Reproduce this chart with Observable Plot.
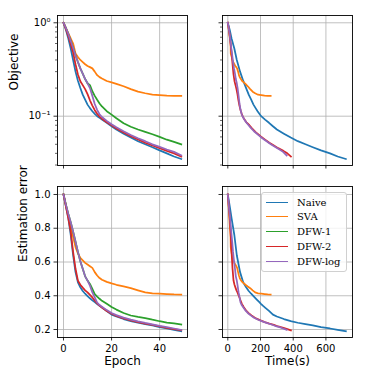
<!DOCTYPE html>
<html>
<head>
<meta charset="utf-8">
<script src="https://cdn.jsdelivr.net/npm/d3@7"></script>
<script src="https://cdn.jsdelivr.net/npm/@observablehq/plot@0.6"></script>
<style>
  html, body { margin: 0; padding: 0; background: #fff; }
  #fig { position: relative; width: 374px; height: 374px; font-family: "DejaVu Sans"; color: #000; }
  #fig svg { position: absolute; left: 0; top: 0; overflow: visible; max-width: none; }
  .legend { position: absolute; box-sizing: border-box; border: 1px solid #d0d0d0; border-radius: 3px;
            background: rgba(255,255,255,0.8); font-family: "DejaVu Serif"; font-size: 10px; color: #000; }
  .legend .row { position: absolute; left: 0; height: 14px; display: flex; align-items: center; white-space: nowrap; }
  .legend .sw { display: inline-block; width: 22px; height: 0; border-top: 1.8px solid; margin-left: 4px; margin-right: 9px; }
</style>
</head>
<body>
<div id="fig"></div>
<script>
// ---- data ----
const methods = ["Naive", "SVA", "DFW-1", "DFW-2", "DFW-log"];
const colors = ["#1f77b4", "#ff7f0e", "#2ca02c", "#d62728", "#9467bd"];

const epochs = [0,1,2,3,4,5,6,7,8,9,10,11,12,13,14,15,16,18,20,22,25,28,31,34,37,40,43,46,49];

const naiveObj  = [1.0,0.84,0.68,0.53,0.40,0.30,0.24,0.20,0.17,0.15,0.133,0.122,0.113,0.106,0.100,0.096,0.092,0.085,0.078,0.072,0.065,0.059,0.054,0.050,0.0465,0.043,0.040,0.037,0.0348];
const naiveErr  = [1.0,0.93,0.86,0.76,0.64,0.54,0.48,0.45,0.428,0.412,0.398,0.385,0.373,0.362,0.351,0.34,0.33,0.31,0.288,0.277,0.262,0.250,0.240,0.232,0.224,0.214,0.206,0.198,0.19];
const naiveTime = [0,12,23,40,55,75,94,112,128,143,157,170,182,193,204,216,228,252,276,300,343,385,428,475,520,570,625,672,722];

const svaEpochs = [0,4,5,6,7,8,9,10,11,12,13,14,15,16,18,20,22,25,28,31,34,37,40,43,46,49];
const svaObj    = [1.0,0.60,0.47,0.43,0.40,0.38,0.36,0.345,0.335,0.325,0.30,0.275,0.262,0.253,0.238,0.230,0.222,0.209,0.195,0.183,0.176,0.170,0.168,0.166,0.165,0.165];
const svaErr    = [1.0,0.75,0.688,0.65,0.625,0.61,0.595,0.585,0.575,0.565,0.54,0.52,0.505,0.495,0.482,0.473,0.465,0.455,0.445,0.432,0.42,0.414,0.412,0.410,0.408,0.407];
const svaTime   = [0,17,18,24,29,34,40,46,52,57,63,68,73,78,88,98,108,122,137,152,167,185,205,225,244,262];

const dfw1Obj = [1.0,0.88,0.76,0.64,0.54,0.45,0.38,0.325,0.285,0.25,0.225,0.215,0.185,0.165,0.150,0.137,0.127,0.113,0.104,0.095,0.084,0.077,0.072,0.068,0.064,0.060,0.056,0.053,0.050];
const dfw1Err = [1.0,0.94,0.885,0.835,0.78,0.72,0.66,0.605,0.56,0.515,0.49,0.47,0.44,0.41,0.395,0.382,0.37,0.352,0.333,0.318,0.298,0.283,0.275,0.268,0.258,0.249,0.241,0.236,0.23];

const dfw2Obj  = [1.0,0.86,0.72,0.59,0.48,0.36,0.28,0.237,0.215,0.195,0.172,0.148,0.130,0.116,0.106,0.099,0.094,0.086,0.080,0.074,0.067,0.061,0.0565,0.052,0.0485,0.0455,0.0425,0.040,0.037];
const dfw2Err  = [1.0,0.93,0.86,0.78,0.66,0.56,0.49,0.465,0.448,0.432,0.42,0.405,0.39,0.372,0.355,0.342,0.33,0.31,0.293,0.281,0.266,0.254,0.244,0.235,0.227,0.218,0.210,0.202,0.195];
const dfw2Time = [0,6,12,17,23,29,35,41,47,53,59,65,71,78,85,92,99,114,132,148,172,200,226,254,282,308,340,364,386];

const dfwlogObj  = [1.0,0.88,0.76,0.64,0.54,0.45,0.38,0.325,0.285,0.25,0.225,0.20,0.165,0.135,0.117,0.105,0.098,0.089,0.082,0.076,0.069,0.063,0.058,0.054,0.050,0.047,0.044,0.0415,0.038];
const dfwlogErr  = [1.0,0.94,0.885,0.835,0.78,0.72,0.66,0.605,0.56,0.515,0.49,0.46,0.42,0.39,0.36,0.345,0.335,0.315,0.298,0.285,0.27,0.258,0.248,0.239,0.231,0.222,0.214,0.206,0.198];
const dfwlogTime = [0,5.5,11,16,21,27,32,38,44,49,55,60,66,72,78,85,92,106,122,138,160,186,211,237,263,288,316,338,360];

const epochTicks = [0, 20, 40];
const timeTicks = [0, 200, 400, 600];
const objTicks = [1, 0.1];
const objTickLabels = ["10⁰", "10⁻¹"];
const objMinor = [0.03,0.04,0.05,0.06,0.07,0.08,0.09,0.2,0.3,0.4,0.5,0.6,0.7,0.8,0.9];
const errTicks = [0.2, 0.4, 0.6, 0.8, 1.0];

// ---- build tables ----
function rows(method, ep, obj, err, time) {
  return ep.map((e, i) => ({method, epoch: e, obj: obj[i], err: err[i], time: time ? time[i] : null}));
}
const series = {
  "Naive": rows("Naive", epochs, naiveObj, naiveErr, naiveTime),
  "SVA": rows("SVA", svaEpochs, svaObj, svaErr, svaTime),
  "DFW-1": rows("DFW-1", epochs, dfw1Obj, dfw1Err, null),
  "DFW-2": rows("DFW-2", epochs, dfw2Obj, dfw2Err, dfw2Time),
  "DFW-log": rows("DFW-log", epochs, dfwlogObj, dfwlogErr, dfwlogTime)
};

const W = 374, H = 374;
const objLabelMap = new Map(objTicks.map((t, i) => [t, objTickLabels[i]]));

function panel(o) {
  const b = o.box;
  const marks = [
    Plot.gridX(o.xTicks, {stroke: "#b0b0b0", strokeOpacity: 1, strokeWidth: 0.8}),
    Plot.gridY(o.yTicks, {stroke: "#b0b0b0", strokeOpacity: 1, strokeWidth: 0.8})
  ];
  for (const m of methods) {
    let d = series[m];
    if (o.xKey === "time") d = d.filter(r => r.time != null);
    if (!d.length) continue;
    marks.push(Plot.line(d, {x: o.xKey, y: o.yKey, stroke: "method", strokeWidth: 1.75, strokeLinejoin: "round", strokeLinecap: "square"}));
  }
  marks.push(Plot.frame({stroke: "#000", strokeWidth: 0.9}));
  marks.push(Plot.axisX({ticks: o.xTicks, tickSize: 3.5, tickPadding: 3.5, strokeWidth: 0.8, fontSize: 10, label: null,
    tickFormat: o.xLabels ? (d => String(d)) : (() => "")}));
  marks.push(Plot.axisY({ticks: o.yTicks, tickSize: 3.5, tickPadding: 3.5, strokeWidth: 0.8, fontSize: 10, label: null,
    tickFormat: o.yLabels ? o.yFormat : (() => "")}));
  if (o.yMinor) marks.push(Plot.axisY({ticks: o.yMinor, tickSize: 2, strokeWidth: 0.6, label: null, tickFormat: () => ""}));
  if (o.xTitle) marks.push(Plot.text([o.xTitle], {text: d => d, frameAnchor: "bottom", dy: 27, fontSize: 12}));
  if (o.yTitle) marks.push(Plot.text([o.yTitle], {text: d => d, frameAnchor: "left", dx: o.yTitleDx, rotate: -90, fontSize: 12}));
  return Plot.plot({
    width: W, height: H,
    marginLeft: b.l, marginRight: W - b.r, marginTop: b.t, marginBottom: H - b.b,
    style: {background: "transparent", fontFamily: "DejaVu Sans", fontSize: "10px", color: "#000", overflow: "visible"},
    x: {domain: o.xDomain, label: null},
    y: {type: o.yType, domain: o.yDomain, label: null},
    color: {domain: methods, range: colors},
    marks
  });
}

const fig = document.getElementById("fig");
const epochDomain = [-2.5, 51.6];
const timeDomain = [-32.4, 762.6];
const objDomain = [0.02965, 1.197];
const errDomain = [0.1526, 1.0474];

fig.appendChild(panel({box: {l: 57, r: 187, t: 15, b: 165}, xKey: "epoch", xDomain: epochDomain, xTicks: epochTicks, xLabels: false,
  yKey: "obj", yType: "log", yDomain: objDomain, yTicks: objTicks, yLabels: true, yFormat: d => objLabelMap.get(d), yMinor: objMinor,
  yTitle: "Objective", yTitleDx: -43}));
fig.appendChild(panel({box: {l: 222, r: 352, t: 15, b: 165}, xKey: "time", xDomain: timeDomain, xTicks: timeTicks, xLabels: false,
  yKey: "obj", yType: "log", yDomain: objDomain, yTicks: objTicks, yLabels: false, yMinor: objMinor}));
fig.appendChild(panel({box: {l: 57, r: 187, t: 186, b: 337}, xKey: "epoch", xDomain: epochDomain, xTicks: epochTicks, xLabels: true, xTitle: "Epoch",
  yKey: "err", yType: "linear", yDomain: errDomain, yTicks: errTicks, yLabels: true, yFormat: d3.format(".1f"),
  yTitle: "Estimation error", yTitleDx: -34}));
fig.appendChild(panel({box: {l: 222, r: 352, t: 186, b: 337}, xKey: "time", xDomain: timeDomain, xTicks: timeTicks, xLabels: true, xTitle: "Time(s)",
  yKey: "err", yType: "linear", yDomain: errDomain, yTicks: errTicks, yLabels: false}));

// legend (bottom-right panel)
const leg = document.createElement("div");
leg.className = "legend";
Object.assign(leg.style, {left: "261px", top: "192px", width: "86px", height: "80px"});
methods.forEach((m, i) => {
  const row = document.createElement("div");
  row.className = "row";
  row.style.top = (2 + i * 14.85) + "px";
  const sw = document.createElement("span");
  sw.className = "sw";
  sw.style.borderTopColor = colors[i];
  const tx = document.createElement("span");
  tx.textContent = m;
  row.appendChild(sw); row.appendChild(tx);
  leg.appendChild(row);
});
fig.appendChild(leg);
</script>
</body>
</html>
